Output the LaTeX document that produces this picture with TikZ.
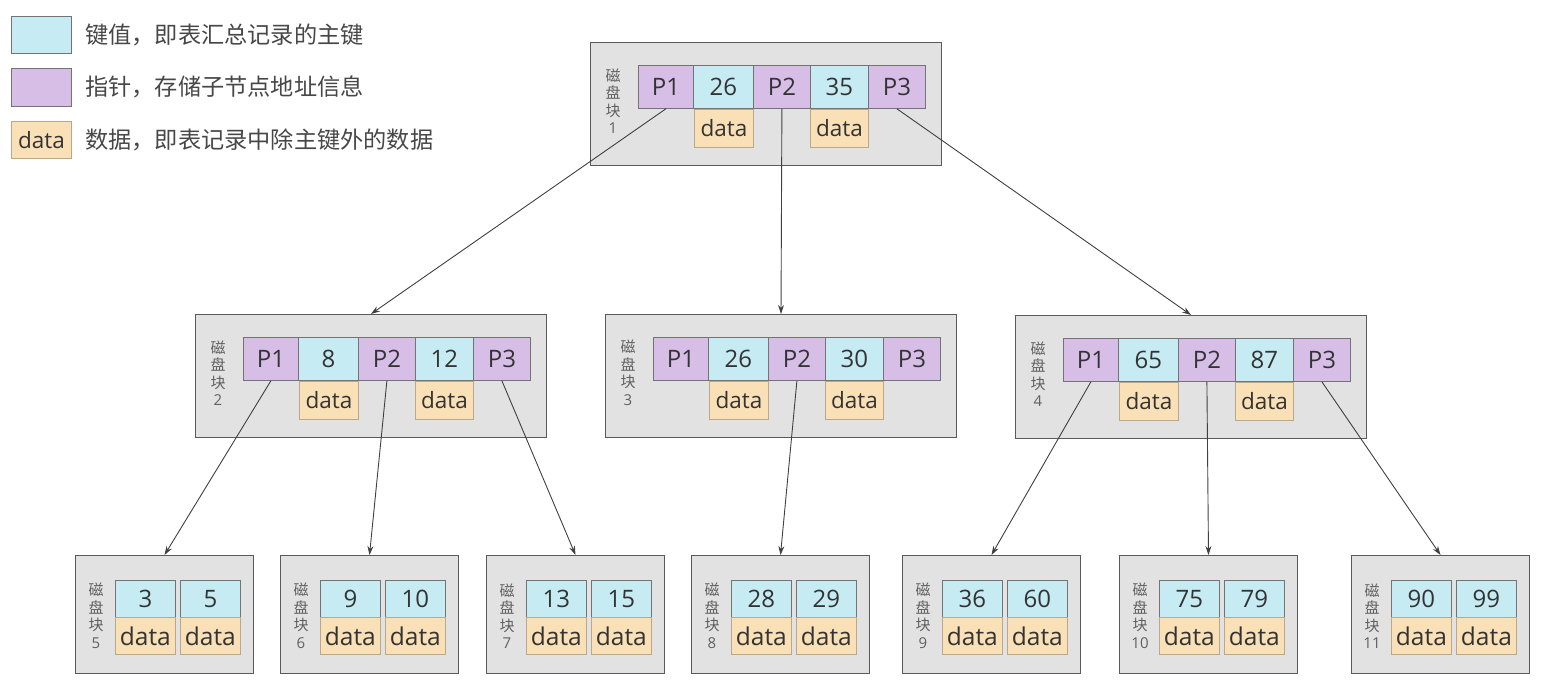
\documentclass[tikz,border=0pt]{standalone}
\usepackage{fontspec}
\setmainfont{Open Sans}
\newfontfamily\cjk{Noto Sans CJK SC}
\usetikzlibrary{arrows.meta}
\definecolor{keyc}{HTML}{C6EBF3}
\definecolor{ptrc}{HTML}{D7BEE7}
\definecolor{datac}{HTML}{F9E0B6}
\definecolor{blkc}{HTML}{E2E2E2}
\definecolor{blkline}{HTML}{5A5A5A}
\definecolor{txtc}{HTML}{333333}
\definecolor{lblc}{HTML}{606060}
\tikzset{
  cell/.style={draw=#1, line width=0.8pt, inner sep=0pt, anchor=north west, text=txtc, font=\fontsize{24}{24}\selectfont},
  keycell/.style={cell=black!55, fill=keyc},
  ptrcell/.style={cell=black!55, fill=ptrc},
  datacell/.style={cell=datac!75!black, fill=datac, font=\fontsize{22.5}{22.5}\selectfont},
  blockbox/.style={draw=blkline, fill=blkc, line width=1pt, anchor=north west, inner sep=0pt},
  blklabel/.style={text=lblc, align=center, font=\cjk\fontsize{15}{17.5}\selectfont, inner sep=0pt},
  legtext/.style={anchor=west, text=txtc!90, font=\cjk\fontsize{23.2}{24}\selectfont, inner sep=0pt},
  link/.style={draw=black!75, line width=0.9pt, -{Stealth[length=9pt,width=6pt]}}
}
% internal block: name, x, y, number, key1, key2
\newcommand\innerblk[6]{%
  \node[blockbox, minimum width=351pt, minimum height=123pt] (#1) at (#2,#3) {};
  \node[blklabel] (#1-l) at (#2+23,#3+59) {磁\\盘\\块\\{\rmfamily\fontsize{15}{17.5}\selectfont #4}};
  \node[ptrcell, minimum width=55pt, minimum height=43pt] (#1-p1) at (#2+48,#3+23) {P1};
  \node[keycell, minimum width=60pt, minimum height=43pt] (#1-k1) at (#2+103,#3+23) {#5};
  \node[ptrcell, minimum width=57pt, minimum height=43pt] (#1-p2) at (#2+163,#3+23) {P2};
  \node[keycell, minimum width=58pt, minimum height=43pt] (#1-k2) at (#2+220,#3+23) {#6};
  \node[ptrcell, minimum width=57pt, minimum height=43pt] (#1-p3) at (#2+278,#3+23) {P3};
  \node[datacell, minimum width=59pt, minimum height=38pt] (#1-d1) at (#2+104,#3+67) {data};
  \node[datacell, minimum width=58pt, minimum height=38pt] (#1-d2) at (#2+220,#3+67) {data};
}
% leaf block: name, x, number, key1, key2
\newcommand\leafblk[5]{%
  \node[blockbox, minimum width=178pt, minimum height=118pt] (#1) at (#2,555) {};
  \node[blklabel] (#1-l) at (#2+21,616) {磁\\盘\\块\\{\rmfamily\fontsize{15}{17.5}\selectfont #3}};
  \node[keycell, minimum width=60pt, minimum height=37pt] (#1-k1) at (#2+40,580) {#4};
  \node[keycell, minimum width=60pt, minimum height=37pt] (#1-k2) at (#2+105,580) {#5};
  \node[datacell, minimum width=60pt, minimum height=37pt, font=\fontsize{24.5}{24.5}\selectfont] (#1-d1) at (#2+40,617) {data};
  \node[datacell, minimum width=60pt, minimum height=37pt, font=\fontsize{24.5}{24.5}\selectfont] (#1-d2) at (#2+105,617) {data};
}
\begin{document}
\begin{tikzpicture}[x=1pt,y=-1pt]
\useasboundingbox (0,0) rectangle (1544,685);
% legend
\node[keycell, minimum width=60pt, minimum height=37pt] (lg1) at (11,16) {};
\node[ptrcell, minimum width=60pt, minimum height=38pt] (lg2) at (11,68) {};
\node[datacell, minimum width=60pt, minimum height=37pt] (lg3) at (11,121) {data};
\node[legtext] (lt1) at (85,35) {键值，即表汇总记录的主键};
\node[legtext] (lt2) at (85,87) {指针，存储子节点地址信息};
\node[legtext] (lt3) at (85,140) {数据，即表记录中除主键外的数据};
% blocks
\innerblk{r}{590}{42}{1}{26}{35}
\innerblk{b2}{195}{314}{2}{8}{12}
\innerblk{b3}{605}{314}{3}{26}{30}
\innerblk{b4}{1015}{315}{4}{65}{87}
\leafblk{l5}{75}{5}{3}{5}
\leafblk{l6}{280}{6}{9}{10}
\leafblk{l7}{486}{7}{13}{15}
\leafblk{l8}{691}{8}{28}{29}
\leafblk{l9}{902}{9}{36}{60}
\leafblk{l10}{1119}{10}{75}{79}
\leafblk{l11}{1351}{11}{90}{99}
% links
\draw[link] (r-p1.south) -- (b2.north);
\draw[link] (r-p2.south) -- (b3.north);
\draw[link] (r-p3.south) -- (b4.north);
\draw[link] (b2-p1.south) -- (l5.north);
\draw[link] (b2-p2.south) -- (l6.north);
\draw[link] (b2-p3.south) -- (l7.north);
\draw[link] (b3-p2.south) -- (l8.north);
\draw[link] (b4-p1.south) -- (l9.north);
\draw[link] (b4-p2.south) -- (l10.north);
\draw[link] (b4-p3.south) -- (l11.north);
\end{tikzpicture}
\end{document}
